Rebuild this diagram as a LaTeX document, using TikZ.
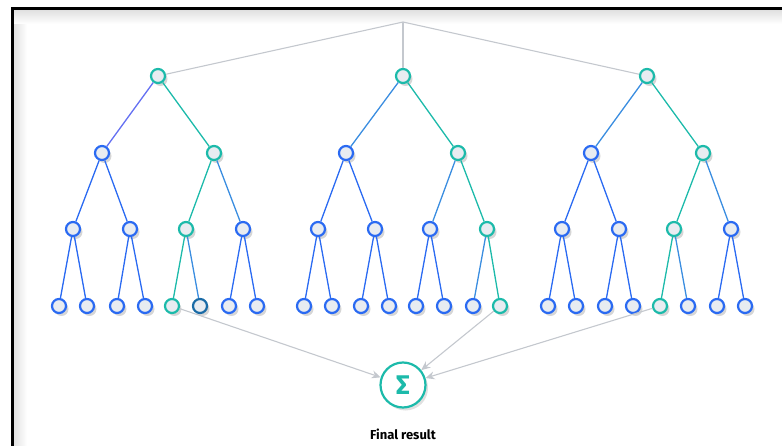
\documentclass[tikz,border=0pt]{standalone}
\usepackage{fontspec}
\setmainfont{Fira Sans}
\usetikzlibrary{arrows.meta, shadows, positioning}

\definecolor{nodeblue}{HTML}{2A6AF2}
\definecolor{nodeteal}{HTML}{1CBAAA}
\definecolor{nodedark}{HTML}{1A6BA6}
\definecolor{edgemix}{HTML}{3A8DE0}
\definecolor{edgeviolet}{HTML}{6470F2}
\definecolor{linegray}{HTML}{C4C8CE}
\definecolor{fillgray}{HTML}{E8ECF1}

\begin{document}
\begin{tikzpicture}[
    x=1pt, y=-1pt,
    dot/.style={circle, draw=nodeblue, fill=fillgray, line width=2.2pt, minimum size=14pt, inner sep=0pt,
        drop shadow={shadow xshift=2.5pt, shadow yshift=-3pt, opacity=0.16, fill=black}},
    tealdot/.style={dot, draw=nodeteal},
    darkdot/.style={dot, draw=nodedark},
    bedge/.style={draw=nodeblue, line width=1.3pt},
    tedge/.style={draw=nodeteal, line width=1.3pt},
    medge/.style={draw=edgemix, line width=1.3pt},
    vedge/.style={draw=edgeviolet, line width=1.3pt},
    gline/.style={draw=linegray, line width=1.1pt},
    garrow/.style={gline, -{Stealth[length=9pt, width=8pt]}},
    sumnode/.style={circle, draw=nodeteal, fill=white, line width=2.2pt, minimum size=45pt, inner sep=0pt,
        text=nodeteal, font=\bfseries\fontsize{27}{27}\selectfont,
        drop shadow={shadow xshift=2.5pt, shadow yshift=-3pt, opacity=0.12, fill=black}}
]
\useasboundingbox (0,0) rectangle (782,446);
\clip (0,0) rectangle (782,446);

% Frame
\fill[left color=black!12, right color=white] (13,10) rectangle (27,446);
\fill[top color=black!12, bottom color=white] (13,10) rectangle (782,24);
\draw[line width=3pt] (12,9) rectangle (800,470);

% Top split
\coordinate (top) at (403,22);

% Tree 1
\node[tealdot] (r1) at (158,76) {};
\node[dot] (m1l) at (102,153) {};
\node[tealdot] (m1r) at (214,153) {};
\node[dot] (n1a) at (73,229) {};
\node[dot] (n1b) at (130,229) {};
\node[tealdot] (n1c) at (186,229) {};
\node[dot] (n1d) at (243,229) {};
\node[dot] (l1a) at (59,306) {};
\node[dot] (l1b) at (87,306) {};
\node[dot] (l1c) at (117,306) {};
\node[dot] (l1d) at (145,306) {};
\node[tealdot] (l1e) at (172,306) {};
\node[darkdot] (l1f) at (200,306) {};
\node[dot] (l1g) at (229,306) {};
\node[dot] (l1h) at (257,306) {};

% Tree 2
\node[tealdot] (r2) at (403,76) {};
\node[dot] (m2l) at (346,153) {};
\node[tealdot] (m2r) at (458,153) {};
\node[dot] (n2a) at (318,229) {};
\node[dot] (n2b) at (375,229) {};
\node[dot] (n2c) at (430,229) {};
\node[tealdot] (n2d) at (487,229) {};
\node[dot] (l2a) at (304,306) {};
\node[dot] (l2b) at (332,306) {};
\node[dot] (l2c) at (361,306) {};
\node[dot] (l2d) at (389,306) {};
\node[dot] (l2e) at (416,306) {};
\node[dot] (l2f) at (444,306) {};
\node[dot] (l2g) at (473,306) {};
\node[tealdot] (l2h) at (500,306) {};

% Tree 3
\node[tealdot] (r3) at (647,76) {};
\node[dot] (m3l) at (591,153) {};
\node[tealdot] (m3r) at (703,153) {};
\node[dot] (n3a) at (562,229) {};
\node[dot] (n3b) at (619,229) {};
\node[tealdot] (n3c) at (674,229) {};
\node[dot] (n3d) at (731,229) {};
\node[dot] (l3a) at (548,306) {};
\node[dot] (l3b) at (576,306) {};
\node[dot] (l3c) at (605,306) {};
\node[dot] (l3d) at (633,306) {};
\node[tealdot] (l3e) at (660,306) {};
\node[dot] (l3f) at (688,306) {};
\node[dot] (l3g) at (717,306) {};
\node[dot] (l3h) at (745,306) {};

% Sum
\node[sumnode] (sum) at (403,385) {Σ};
\node[font=\bfseries\fontsize{13}{15}\selectfont, inner sep=0pt, below=20pt of sum] (result) {Final result};

% Top lines
\draw[gline] (top) -- (r1);
\draw[gline] (top) -- (r2);
\draw[gline] (top) -- (r3);

% Edges tree 1
\draw[vedge] (r1) -- (m1l);
\draw[tedge] (r1) -- (m1r);
\draw[bedge] (m1l) -- (n1a);
\draw[bedge] (m1l) -- (n1b);
\draw[tedge] (m1r) -- (n1c);
\draw[medge] (m1r) -- (n1d);
\draw[bedge] (n1a) -- (l1a);
\draw[bedge] (n1a) -- (l1b);
\draw[bedge] (n1b) -- (l1c);
\draw[bedge] (n1b) -- (l1d);
\draw[tedge] (n1c) -- (l1e);
\draw[medge] (n1c) -- (l1f);
\draw[bedge] (n1d) -- (l1g);
\draw[bedge] (n1d) -- (l1h);

% Edges tree 2
\draw[medge] (r2) -- (m2l);
\draw[tedge] (r2) -- (m2r);
\draw[bedge] (m2l) -- (n2a);
\draw[bedge] (m2l) -- (n2b);
\draw[medge] (m2r) -- (n2c);
\draw[tedge] (m2r) -- (n2d);
\draw[bedge] (n2a) -- (l2a);
\draw[bedge] (n2a) -- (l2b);
\draw[bedge] (n2b) -- (l2c);
\draw[bedge] (n2b) -- (l2d);
\draw[bedge] (n2c) -- (l2e);
\draw[bedge] (n2c) -- (l2f);
\draw[medge] (n2d) -- (l2g);
\draw[tedge] (n2d) -- (l2h);

% Edges tree 3
\draw[medge] (r3) -- (m3l);
\draw[tedge] (r3) -- (m3r);
\draw[bedge] (m3l) -- (n3a);
\draw[bedge] (m3l) -- (n3b);
\draw[tedge] (m3r) -- (n3c);
\draw[medge] (m3r) -- (n3d);
\draw[bedge] (n3a) -- (l3a);
\draw[bedge] (n3a) -- (l3b);
\draw[bedge] (n3b) -- (l3c);
\draw[bedge] (n3b) -- (l3d);
\draw[tedge] (n3c) -- (l3e);
\draw[medge] (n3c) -- (l3f);
\draw[bedge] (n3d) -- (l3g);
\draw[bedge] (n3d) -- (l3h);

% Results to sum
\draw[garrow] (l1e) -- (sum);
\draw[garrow] (l2h) -- (sum);
\draw[garrow] (l3e) -- (sum);

\end{tikzpicture}
\end{document}
